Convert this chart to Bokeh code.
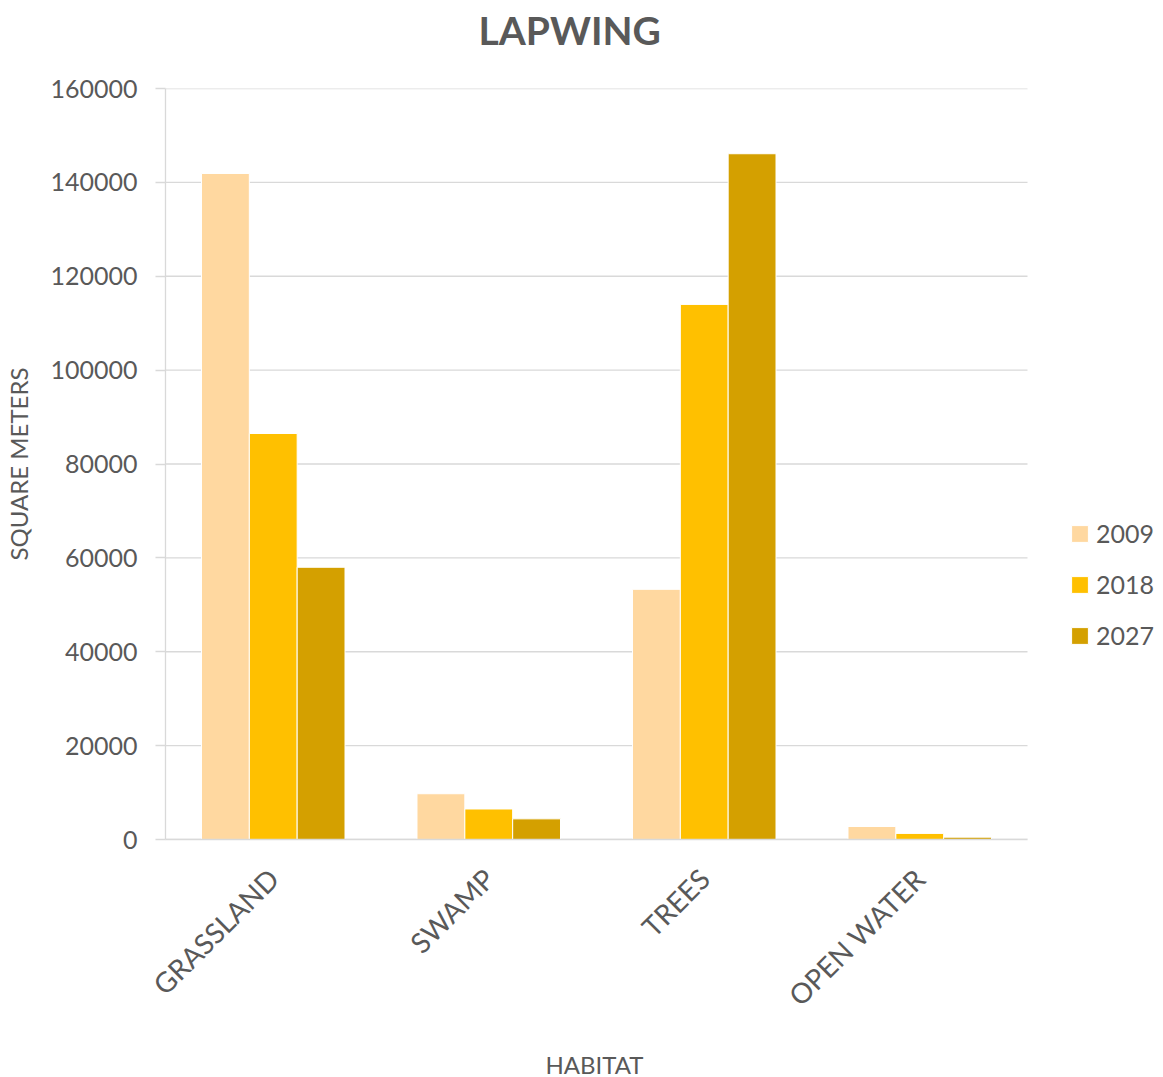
from bokeh.plotting import figure
from bokeh.models import ColumnDataSource, Legend, LegendItem, FixedTicker, NumeralTickFormatter, Range1d, Title
from bokeh.transform import dodge
from bokeh.embed import file_html
from bokeh.resources import INLINE
from math import pi

# Lapwing habitat area by year (square meters)
habitats = ["GRASSLAND", "SWAMP", "TREES", "OPEN WATER"]
years = ["2009", "2018", "2027"]
area_2009 = [141900, 9750, 53300, 2770]
area_2018 = [86500, 6500, 114000, 1300]
area_2027 = [58000, 4400, 146100, 500]
y_ticks = [0, 20000, 40000, 60000, 80000, 100000, 120000, 140000, 160000]

colors = ["#FFD8A0", "#FFC000", "#D4A000"]
FONT = "Lato"
TEXT = "#595959"
GRID = "#D9D9D9"

n_cat = len(habitats)
centers = [i + 0.5 for i in range(n_cat)]
source = ColumnDataSource(dict(xc=centers, habitat=habitats, y2009=area_2009,
                               y2018=area_2018, y2027=area_2027))

# the frame runs on past the last category so the legend has room at the right
FRAME_W, FRAME_H = 998, 751
x_end = n_cat * FRAME_W / 862
p = figure(x_range=Range1d(0, x_end), y_range=Range1d(0, 160000),
           frame_width=FRAME_W, frame_height=FRAME_H,
           output_backend="svg", toolbar_location=None,
           min_border_left=165, min_border_right=0,
           min_border_top=88, min_border_bottom=238)

p.title.text = "LAPWING"
p.title.align = "left"
p.title.offset = 313
p.title.standoff = 2
p.title.padding = (0, 0, 0, 35)
p.title.text_font = FONT
p.title.text_font_size = "39px"
p.title.text_font_style = "bold"
p.title.text_color = TEXT

# horizontal gridlines across the category area only
p.segment(x0=0, x1=n_cat, y0=y_ticks, y1=y_ticks, line_color=GRID, line_width=1.3)

bar_w = 0.222
renderers = []
for yr, col, off in zip(years, colors, [-bar_w, 0.0, bar_w]):
    r = p.vbar(x=dodge("xc", off), top="y" + yr,
               width=bar_w, source=source, fill_color=col,
               line_color="white", line_width=1)
    renderers.append(r)

legend = Legend(items=[LegendItem(label=yr, renderers=[r]) for yr, r in zip(years, renderers)],
                location=(904, 189), orientation="vertical",
                glyph_width=21, glyph_height=21, label_standoff=6,
                spacing=21, label_height=30,
                label_text_font=FONT, label_text_font_size="25px",
                label_text_color=TEXT, border_line_color=None,
                background_fill_alpha=0, padding=0, margin=0)
p.add_layout(legend, "center")

# y axis
p.yaxis.ticker = FixedTicker(ticks=y_ticks)
p.yaxis.formatter = NumeralTickFormatter(format="0")
p.yaxis.axis_line_color = GRID
p.yaxis.axis_line_width = 1.3
p.yaxis.major_tick_line_color = GRID
p.yaxis.major_tick_line_width = 1.3
p.yaxis.major_tick_out = 10
p.yaxis.major_tick_in = 0
p.yaxis.minor_tick_line_color = None
p.yaxis.major_label_standoff = 18
p.yaxis.major_label_text_font = FONT
p.yaxis.major_label_text_font_size = "25px"
p.yaxis.major_label_text_color = TEXT
p.yaxis.axis_label = "SQUARE METERS"
p.yaxis.axis_label_text_font = FONT
p.yaxis.axis_label_text_font_size = "24px"
p.yaxis.axis_label_text_font_style = "normal"
p.yaxis.axis_label_text_color = TEXT
p.yaxis.axis_label_standoff = 14

# x axis: one label per category
p.xaxis.ticker = FixedTicker(ticks=centers)
p.xaxis.major_label_overrides = {c: h for c, h in zip(centers, habitats)}
p.xaxis.bounds = (0, n_cat)
p.xaxis.axis_line_color = GRID
p.xaxis.axis_line_width = 1.3
p.xaxis.major_tick_line_color = None
p.xaxis.minor_tick_line_color = None
p.xaxis.major_label_orientation = pi / 4
p.xaxis.major_label_standoff = 28
p.xaxis.major_label_text_font = FONT
p.xaxis.major_label_text_font_size = "28px"
p.xaxis.major_label_text_color = TEXT

# x axis title, centred under the category area
p.add_layout(Title(text="HABITAT", align="left", offset=380, standoff=40,
                   text_font=FONT, text_font_size="24px",
                   text_font_style="normal", text_color=TEXT), "below")

p.grid.grid_line_color = None
p.outline_line_color = None

open("out.html", "w").write(file_html(p, INLINE))
